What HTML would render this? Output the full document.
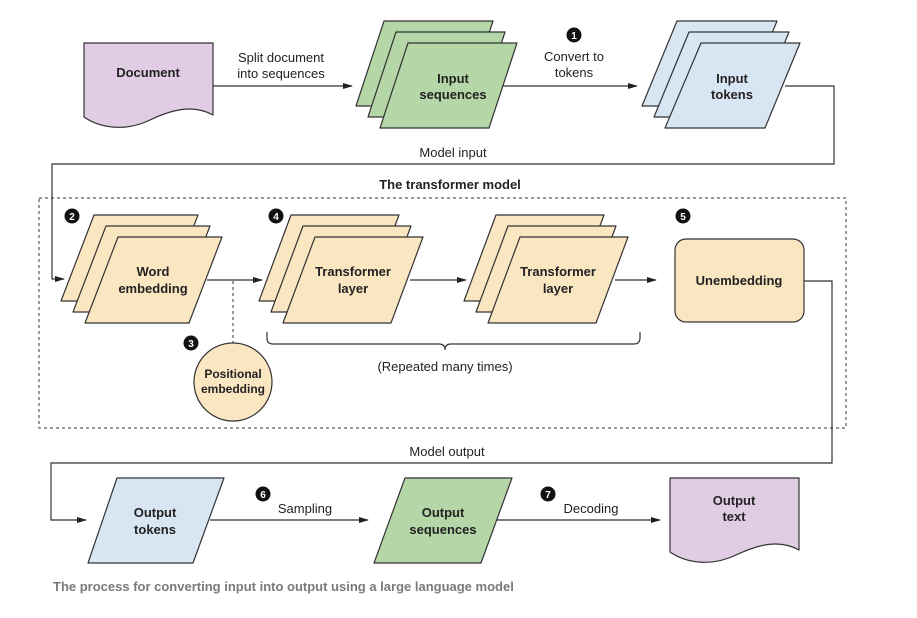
<!DOCTYPE html>
<html><head><meta charset="utf-8"><style>
body{margin:0;background:#fff}
svg{display:block}
text{font-family:"Liberation Sans",sans-serif;fill:#222}
.b{font-weight:bold;font-size:13px}
.n{font-size:13px}
.sh{stroke:#333;stroke-width:1.2;stroke-linejoin:round}
.ln{stroke:#333;stroke-width:1.2;fill:none}
</style></head><body>
<svg width="917" height="618" viewBox="0 0 917 618">
<defs>
<marker id="a" markerWidth="10" markerHeight="8" refX="9" refY="4" orient="auto" markerUnits="userSpaceOnUse"><path d="M0,1 L10,4 L0,7 Z" fill="#222"/></marker>
</defs>
<rect width="917" height="618" fill="#fff"/>

<!-- Document -->
<path class="sh" fill="#e0cce3" d="M84,43 H213 V115 C195,105 175,108 150,120 C125,132 100,128 84,117 Z"/>
<text class="b" x="148" y="77" text-anchor="middle">Document</text>
<line class="ln" x1="213" y1="86" x2="352" y2="86" marker-end="url(#a)"/>
<text class="n" x="281" y="62" text-anchor="middle">Split document</text>
<text class="n" x="281" y="78" text-anchor="middle">into sequences</text>

<!-- Input sequences stack -->
<g fill="#b5d6a7" class="sh">
<path d="M384,21 H493 L465,106 H356 Z"/>
<path d="M396,32 H505 L477,117 H368 Z"/>
<path d="M408,43 H517 L489,128 H380 Z"/>
</g>
<text class="b" x="453" y="83" text-anchor="middle">Input</text>
<text class="b" x="453" y="99" text-anchor="middle">sequences</text>
<line class="ln" x1="503" y1="86" x2="637" y2="86" marker-end="url(#a)"/>
<circle cx="574" cy="35" r="7.5" fill="#111"/>
<text x="574" y="39" text-anchor="middle" style="font-size:10px;font-weight:bold;fill:#fff">1</text>
<text class="n" x="574" y="61" text-anchor="middle">Convert to</text>
<text class="n" x="574" y="77" text-anchor="middle">tokens</text>

<!-- Input tokens -->
<g fill="#d8e6f4" class="sh">
<path d="M677,21 H777 L742,106 H642 Z"/>
<path d="M689,32 H789 L754,117 H654 Z"/>
<path d="M701,43 H800 L765,128 H665 Z"/>
</g>
<text class="b" x="732" y="83" text-anchor="middle">Input</text>
<text class="b" x="732" y="99" text-anchor="middle">tokens</text>
<polyline class="ln" points="785,86 834,86 834,164 52,164 52,279 64,279" marker-end="url(#a)"/>
<text class="n" x="453" y="157" text-anchor="middle">Model input</text>
<text class="b" x="450" y="189" text-anchor="middle">The transformer model</text>

<!-- dashed box -->
<rect x="39" y="198" width="807" height="230" fill="none" stroke="#333" stroke-width="1" stroke-dasharray="3,3"/>

<!-- Word embedding -->
<g fill="#fbe6c2" class="sh">
<path d="M94,215 H198 L165,301 H61 Z"/>
<path d="M106,226 H210 L177,312 H73 Z"/>
<path d="M118,237 H222 L189,323 H85 Z"/>
</g>
<text class="b" x="153" y="276" text-anchor="middle">Word</text>
<text class="b" x="153" y="293" text-anchor="middle">embedding</text>
<line class="ln" x1="207" y1="280" x2="262" y2="280" marker-end="url(#a)"/>
<line x1="233" y1="281" x2="233" y2="343" stroke="#333" stroke-width="1" stroke-dasharray="3,3"/>
<circle cx="72" cy="216" r="7.5" fill="#111"/>
<text x="72" y="220" text-anchor="middle" style="font-size:10px;font-weight:bold;fill:#fff">2</text>

<!-- Positional -->
<circle cx="233" cy="382" r="39" fill="#fbe6c2" class="sh"/>
<text class="b" x="233" y="378" text-anchor="middle" style="font-size:12px">Positional</text>
<text class="b" x="233" y="393" text-anchor="middle" style="font-size:12px">embedding</text>
<circle cx="191" cy="343" r="7.5" fill="#111"/>
<text x="191" y="347" text-anchor="middle" style="font-size:10px;font-weight:bold;fill:#fff">3</text>

<!-- Transformer 1 -->
<g fill="#fbe6c2" class="sh">
<path d="M291,215 H399 L367,301 H259 Z"/>
<path d="M303,226 H411 L379,312 H271 Z"/>
<path d="M315,237 H423 L391,323 H283 Z"/>
</g>
<text class="b" x="353" y="276" text-anchor="middle">Transformer</text>
<text class="b" x="353" y="293" text-anchor="middle">layer</text>
<line class="ln" x1="410" y1="280" x2="466" y2="280" marker-end="url(#a)"/>
<circle cx="276" cy="216" r="7.5" fill="#111"/>
<text x="276" y="220" text-anchor="middle" style="font-size:10px;font-weight:bold;fill:#fff">4</text>

<!-- Transformer 2 -->
<g fill="#fbe6c2" class="sh">
<path d="M496,215 H604 L572,301 H464 Z"/>
<path d="M508,226 H616 L584,312 H476 Z"/>
<path d="M520,237 H628 L596,323 H488 Z"/>
</g>
<text class="b" x="558" y="276" text-anchor="middle">Transformer</text>
<text class="b" x="558" y="293" text-anchor="middle">layer</text>
<line class="ln" x1="615" y1="280" x2="656" y2="280" marker-end="url(#a)"/>

<!-- brace -->
<path class="ln" d="M267,332 V338 Q267,344 273,344 H439 Q445,344 445,350 Q445,344 451,344 H634 Q640,344 640,338 V332"/>
<text class="n" x="445" y="371" text-anchor="middle">(Repeated many times)</text>

<!-- Unembedding -->
<rect x="675" y="239" width="129" height="83" rx="11" fill="#fbe6c2" class="sh"/>
<text class="b" x="739" y="285" text-anchor="middle">Unembedding</text>
<circle cx="683" cy="216" r="7.5" fill="#111"/>
<text x="683" y="220" text-anchor="middle" style="font-size:10px;font-weight:bold;fill:#fff">5</text>
<polyline class="ln" points="804,281 832,281 832,463 51,463 51,520 86,520" marker-end="url(#a)"/>
<text class="n" x="447" y="456" text-anchor="middle">Model output</text>

<!-- Output tokens -->
<path class="sh" fill="#d8e6f4" d="M117,478 H224 L193,563 H88 Z"/>
<text class="b" x="155" y="517" text-anchor="middle">Output</text>
<text class="b" x="155" y="534" text-anchor="middle">tokens</text>
<line class="ln" x1="210" y1="520" x2="368" y2="520" marker-end="url(#a)"/>
<circle cx="263" cy="494" r="7.5" fill="#111"/>
<text x="263" y="498" text-anchor="middle" style="font-size:10px;font-weight:bold;fill:#fff">6</text>
<text class="n" x="305" y="513" text-anchor="middle">Sampling</text>

<!-- Output sequences -->
<path class="sh" fill="#b5d6a7" d="M405,478 H512 L481,563 H374 Z"/>
<text class="b" x="443" y="517" text-anchor="middle">Output</text>
<text class="b" x="443" y="534" text-anchor="middle">sequences</text>
<line class="ln" x1="497" y1="520" x2="660" y2="520" marker-end="url(#a)"/>
<circle cx="548" cy="494" r="7.5" fill="#111"/>
<text x="548" y="498" text-anchor="middle" style="font-size:10px;font-weight:bold;fill:#fff">7</text>
<text class="n" x="591" y="513" text-anchor="middle">Decoding</text>

<!-- Output text -->
<path class="sh" fill="#e0cce3" d="M670,478 H799 V550 C781,540 761,543 736,555 C711,567 686,563 670,552 Z"/>
<text class="b" x="734" y="505" text-anchor="middle">Output</text>
<text class="b" x="734" y="521" text-anchor="middle">text</text>

<text x="53" y="591" style="font-size:13px;font-weight:bold;fill:#7a7a7a;font-family:'Liberation Sans Narrow','Liberation Sans',sans-serif">The process for converting input into output using a large language model</text>
</svg>
</body></html>
